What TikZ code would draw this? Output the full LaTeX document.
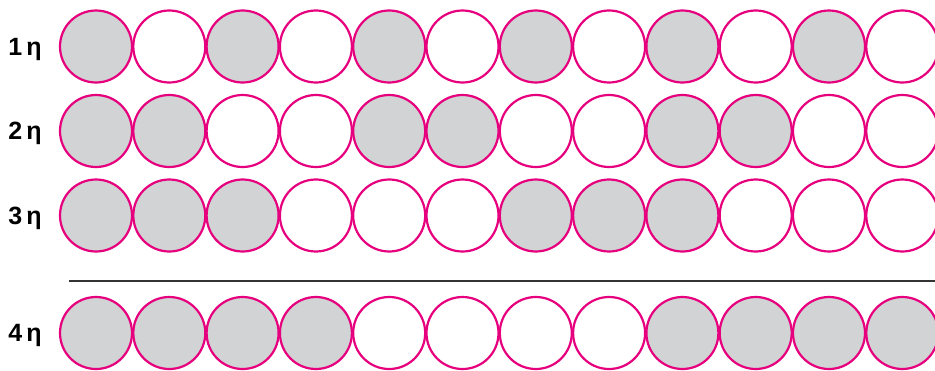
\documentclass[tikz,border=0pt]{standalone}
\usepackage{fontspec}
\setmainfont{Liberation Sans}
\usepackage{xcolor}
\usepackage{tikz}
\usetikzlibrary{positioning}
\definecolor{rim}{HTML}{E6007E}
\definecolor{shade}{HTML}{D1D3D4}
\definecolor{rule}{HTML}{333333}
\tikzset{
  bead/.style    = {circle, draw=rim, line width=2.2pt, minimum size=72pt,
                    inner sep=0pt, fill=white},
  fullbead/.style= {bead, fill=shade},
  rowlab/.style  = {anchor=base, font=\fontsize{25}{30}\selectfont\bfseries},
  sep/.style     = {draw=rule, line width=2.4pt},
}

\begin{document}
\begin{tikzpicture}[x=1pt, y=-1pt]
  \useasboundingbox (0,0) rectangle (935,370);

  % rows of beads: row n is shaded in runs of n
  \foreach \n/\y in {1/46.5, 2/131, 3/215.5, 4/333}{
    \node[rowlab] (lab\n) at (25,\y+8.5) {\n\,η};
    \foreach \i in {0,...,11}{
      \pgfmathtruncatemacro{\odd}{mod(int(\i/\n),2)}
      \ifnum\odd=0
        \node[fullbead] (b\n-\i) at (96+73.3*\i,\y) {};
      \else
        \node[bead] (b\n-\i) at (96+73.3*\i,\y) {};
      \fi
    }
  }

  % dividing rule
  \coordinate (ruleL) at (69,281);
  \coordinate (ruleR) at (935,281);
  \draw[sep] (ruleL) -- (ruleR);

\end{tikzpicture}
\end{document}
